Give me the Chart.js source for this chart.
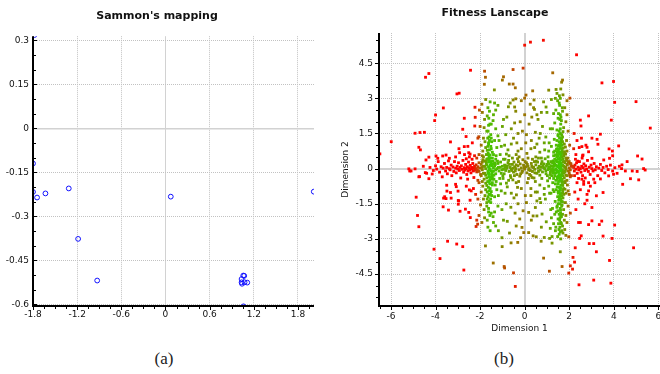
<!DOCTYPE html>
<html><head><meta charset="utf-8">
<script src="https://cdn.jsdelivr.net/npm/chart.js@4/dist/chart.umd.min.js"></script>
<style>
html,body{margin:0;padding:0;background:#fff;width:660px;height:374px;overflow:hidden;position:relative;}
#wa{position:absolute;left:0;top:0;width:325px;height:340px;}
#wb{position:absolute;left:330px;top:0;width:348px;height:340px;}
.cap{position:absolute;top:348px;width:60px;height:22px;line-height:22px;text-align:center;font-family:"Liberation Serif","DejaVu Serif",serif;font-size:17px;color:#222;}
</style></head><body>
<div id="wa"><canvas id="ca" width="325" height="340"></canvas></div>
<div id="wb"><canvas id="cb" width="348" height="340"></canvas></div>
<div class="cap" style="left:134px;">(a)</div>
<div class="cap" style="left:474px;">(b)</div>
<script>
// ---------- Sammon's mapping (a) ----------
const sammonX = [-1.78, -1.80, -1.314, -1.80, -1.745, -1.631, 0.072, 2.015, -1.187, -0.928, 1.057, 1.07, 1.034, 1.034, 1.075, 1.111, 1.04, 1.06];
const sammonY = [0.318, -0.120, -0.205, -0.217, -0.236, -0.222, -0.233, -0.216, -0.377, -0.519, -0.502, -0.503, -0.514, -0.525, -0.525, -0.526, -0.53, -0.607];
const sammonXTicks = [-1.8, -1.2, -0.6, 0, 0.6, 1.2, 1.8];
const sammonYTicks = [0.3, 0.15, 0, -0.15, -0.3, -0.45, -0.6];

// ---------- Fitness landscape (b) ----------
const fitXTicks = [-6, -4, -2, 0, 2, 4, 6];
const fitYTicks = [4.5, 3, 1.5, 0, -1.5, -3, -4.5];

const fitOuter = [
[0.0,5.27],[0.26,5.4],[0.84,5.48],[2.33,4.86],
[-4.45,3.9],[-4.3,4.06],[-2.43,4.2],[-1.8,4.16],[-1.76,3.9],[-1.81,3.6],[-1.36,3.36],[-1.0,3.78],[-0.95,3.92],
[-0.52,4.23],[-0.69,3.61],[-0.52,3.61],[-0.42,3.45],[-0.07,4.29],[-0.52,2.93],[-0.4,2.98],[-0.73,2.64],[-0.45,2.63],
[0.06,3.14],[0.0,3.01],[0.36,3.32],[0.42,2.93],[0.44,2.53],[0.55,2.3],[0.96,2.63],[1.08,3.35],[1.26,4.09],[1.41,3.38],
[1.45,3.21],[1.56,3.11],[1.6,3.0],[1.66,3.69],[1.7,3.78],[1.9,2.9],[2.03,3.01],
[2.5,2.07],[2.53,1.82],[2.87,2.25],[3.47,3.66],[3.99,3.72],[4.04,2.83],[3.89,2.07],[5.0,2.86],[5.64,1.73],
[3.4,1.47],[3.02,1.3],[3.25,1.25],[3.29,1.04],[4.22,0.97],[3.79,0.84],[3.94,0.75],[3.95,0.55],[5.07,0.54],[5.27,0.41],
[4.6,0.3],[4.37,0.16],[2.8,0.91],[2.87,0.72],[3.02,0.44],[3.55,0.37],[3.81,0.44],[2.57,0.94],[2.62,0.58],
[4.52,-0.1],[5.34,0.0],[5.41,-0.06],[4.75,-0.43],[5.12,-0.48],[4.4,-0.67],[4.83,-0.1],[5.05,-0.12],
[-5.99,1.15],[-6.5,0.63],[-4.92,1.51],[-4.7,1.54],[-4.5,1.55],[-4.75,0.91],[-4.68,0.8],
[-3.04,3.19],[-2.94,3.22],[-3.65,2.59],[-4.0,2.29],[-4.04,2.05],[-2.71,2.15],[-2.78,1.68],[-2.63,1.37],[-3.33,1.14],
[-2.71,0.94],[-2.23,2.62],[-2.22,2.19],[-2.03,2.5],[-2.24,1.82],[-2.06,1.36],
[-4.43,0.37],[-4.3,0.49],[-3.98,0.54],[-3.9,0.44],[-3.68,0.54],[-3.53,0.58],[-3.38,0.44],[-2.92,0.68],[-2.51,0.68],
[-5.2,-0.01],[-5.1,-0.1],[-4.92,-0.01],[-4.72,-0.34],[-5.16,-0.1],
[-4.87,-1.22],[-4.81,-2.0],[-4.75,-2.48],[-4.07,-3.44],[-3.8,-3.84],[-3.46,-3.1],[-3.05,-3.22],[-2.78,-3.33],[-2.73,-4.33],
[-3.66,-1.63],[-3.42,-1.77],[-3.59,-1.2],[-2.96,-1.38],[-2.9,-1.82],[-2.66,-1.73],[-2.51,-1.87],[-2.44,-2.09],[-2.18,-2.47],[-2.11,-2.37],
[-1.76,-3.3],[-1.41,-4.03],[-1.01,-3.33],[-0.92,-4.18],[-0.9,-4.24],[-0.5,-4.45],[-0.42,-5.03],[-0.61,-3.17],[-0.31,-3.15],
[0.85,-3.82],[1.11,-4.38],[1.6,-3.55],[1.68,-4.18],[1.98,-4.46],[2.05,-4.15],[2.15,-4.29],[2.24,-3.99],[2.17,-3.79],[2.27,-3.38],[2.18,-5.89],[2.44,-4.96],
[2.47,-2.98],[2.54,-2.87],[2.42,-2.3],[2.5,-2.3],[2.87,-2.39],[3.02,-2.23],[3.35,-2.39],[3.46,-2.24],[3.02,-1.66],[3.52,-2.88],[2.9,-3.2],[3.1,-3.2],
[3.22,-3.55],[3.1,-4.76],[3.92,-2.98],[3.81,-3.92],[4.04,-2.41],[3.87,-4.89],[4.89,-3.38],[3.22,-1.16],[2.87,-0.95],[3.52,-1.02],[2.8,-1.35]
];

const fitBandLeft = [
[-4.25,0.05],[-4.1,-0.08],[-4.0,0.12],[-3.95,-0.02],[-3.88,0.3],[-3.82,-0.15],[-3.75,0.08],[-3.7,-0.35],[-3.66,0.02],[-3.6,0.22],
[-3.55,-0.1],[-3.5,0.05],[-3.47,-0.22],[-3.42,0.33],[-3.38,0.0],[-3.35,-0.05],[-3.3,0.15],[-3.27,-0.3],[-3.22,0.07],[-3.18,-0.12],
[-3.15,0.3],[-3.1,0.02],[-3.07,-0.18],[-3.03,0.1],[-3.0,-0.02],[-2.97,0.25],[-2.93,-0.08],[-2.9,0.05],[-2.87,-0.4],[-2.84,0.12],
[-2.8,-0.03],[-2.77,0.35],[-2.74,-0.15],[-2.71,0.04],[-2.68,-0.06],[-2.65,0.18],[-2.62,0.0],[-2.6,-0.25],[-2.57,0.08],[-2.54,-0.1],
[-2.52,0.28],[-2.49,0.02],[-2.46,-0.05],[-2.44,0.14],[-2.41,-0.18],[-2.38,0.05],[-2.35,-0.02],[-2.33,0.22],[-2.3,-0.1],[-2.27,0.03],
[-2.25,0.1],[-2.22,-0.06],[-2.2,0.0],[-2.18,0.16],[-2.15,-0.14],[-2.62,0.42],[-2.48,0.5],[-2.36,0.4],[-2.28,-0.38],[-2.56,-0.45],
[-3.1,0.5],[-2.95,0.85],[-2.7,0.6],[-2.55,0.95],[-2.45,0.62],[-2.35,1.1],[-2.25,0.55],[-2.15,0.45],[-2.1,-0.5],
[-3.5,-0.71],[-3.49,-0.96],[-3.64,-1.26],[-3.53,-1.28],[-3.33,-1.02],[-3.3,-1.26],[-3.1,-0.67],[-3.07,-0.77],[-2.99,-0.96],
[-2.98,-1.36],[-2.98,-1.52],[-2.48,-0.91],[-2.4,-0.95],[-2.45,-1.35],[-2.62,-0.75],[-2.3,-0.85],[-2.2,-1.1],
[-4.75,-0.35],[-4.3,-0.43],[-4.15,-0.23],[-4.46,-0.17],[-4.4,-0.2],[-4.55,0.1]
];

const fitBandRight = [
[2.2,0.05],[2.23,-0.1],[2.26,0.15],[2.3,-0.02],[2.33,0.25],[2.36,-0.2],[2.4,0.06],[2.43,-0.05],[2.46,0.3],[2.5,0.0],
[2.53,-0.15],[2.56,0.1],[2.6,-0.3],[2.63,0.04],[2.66,0.2],[2.7,-0.08],[2.74,0.12],[2.78,-0.02],[2.82,0.35],[2.86,-0.12],
[2.9,0.06],[2.94,-0.25],[2.98,0.15],[3.02,0.0],[3.07,-0.1],[3.12,0.22],[3.17,-0.05],[3.22,0.08],[3.28,-0.3],[3.33,0.02],
[3.4,0.18],[3.46,-0.08],[3.52,0.05],[3.6,-0.18],[3.68,0.1],[3.75,-0.04],[3.85,0.15],[3.95,-0.1],[4.05,0.04],[4.15,-0.2],
[4.25,0.1],[4.35,0.0],[2.28,0.4],[2.42,-0.42],[2.58,0.45],[2.72,-0.4],[2.24,-0.3],[2.38,0.32],
[2.3,0.6],[2.45,0.9],[2.6,0.55],[2.75,1.0],[2.2,0.85],[2.35,1.2],[2.55,1.3],[2.22,1.5],
[2.35,-0.6],[2.5,-0.9],[2.65,-0.55],[2.8,-1.1],[2.95,-0.75],[3.15,-0.6],[2.4,-1.3],[2.25,-1.0],[2.7,-1.5],[2.3,-1.75],
[2.57,-0.45],[2.87,-0.6],[3.1,-0.45],[3.4,-0.44],[3.77,-0.31],[3.99,-0.24],[2.65,-0.67]
];

const fitBandCenter = [
[-2.1,0.08],[-2.05,-0.12],[-2.0,0.02],[-1.95,0.18],[-1.9,-0.05],[-1.85,0.1],[-1.8,-0.2],[-1.75,0.0],[-1.7,0.15],[-1.65,-0.1],
[-1.6,0.05],[-1.55,-0.02],[-1.5,0.2],[-1.45,-0.15],[-1.4,0.04],[-1.35,0.12],[-1.3,-0.06],[-1.25,0.0],[-1.2,0.22],[-1.15,-0.1],
[-1.1,0.06],[-1.05,-0.2],[-1.0,0.1],[-0.95,-0.03],[-0.9,0.15],[-0.85,-0.08],[-0.8,0.02],[-0.75,0.25],[-0.7,-0.12],[-0.65,0.05],
[-0.6,-0.02],[-0.55,0.18],[-0.5,-0.15],[-0.45,0.08],[-0.4,0.0],[-0.35,-0.25],[-0.3,0.12],[-0.25,-0.05],[-0.2,0.2],[-0.15,0.03],
[-0.1,-0.1],[-0.05,0.15],[0.0,-0.02],[0.05,0.08],[0.1,-0.18],[0.15,0.1],[0.2,0.0],[0.25,-0.08],[0.3,0.22],[0.35,-0.12],
[0.4,0.05],[0.45,-0.03],[0.5,0.16],[0.55,-0.2],[0.6,0.02],[0.65,0.1],[0.7,-0.06],[0.75,0.2],[0.8,-0.14],[0.85,0.04],
[0.9,0.0],[0.95,-0.1],[1.0,0.18],[1.05,-0.04],[1.1,0.08],[1.15,-0.16],[1.2,0.12],[1.25,0.0],[1.3,-0.08],[1.35,0.2],
[1.4,-0.02],[1.45,0.1],[1.5,-0.12],[1.55,0.04],[1.6,0.0],[1.65,-0.06],[1.7,0.14],[1.75,-0.18],[1.8,0.06],[1.85,-0.02],
[1.9,0.16],[1.95,-0.1],[2.0,0.03],[2.05,-0.05],[2.1,0.1],
[-1.98,-0.25],[-1.72,0.3],[-1.48,-0.3],[-1.22,0.32],[-0.98,-0.3],[-0.72,0.35],[-0.48,0.28],[-0.22,-0.32],[0.02,0.3],[0.28,-0.3],
[0.52,0.32],[0.78,0.3],[1.02,-0.3],[1.28,0.33],[1.52,-0.32],[1.78,0.3],[2.02,-0.28],[-1.88,0.38],[-0.62,-0.38],[0.42,-0.4],
[0.92,0.42],[1.12,-0.4],[-1.12,-0.42],[-0.32,0.42],[0.62,0.45],[-0.88,0.4],
[-2.12,-0.04],[-1.92,0.05],[-1.62,-0.18],[-1.32,0.18],[-1.02,-0.05],[-0.82,0.12],[-0.58,-0.08],[-0.38,0.16],[-0.12,-0.16],[0.12,0.18],
[0.36,0.06],[0.62,-0.12],[0.86,0.2],[1.08,0.0],[1.32,0.1],[1.58,0.18],[1.82,-0.1],[2.08,0.2],
[-1.08,0.28],[-0.92,-0.22],[-0.78,0.1],[-0.64,-0.3],[-0.52,0.02],[-0.42,-0.1],[-0.28,0.3],[-0.18,-0.22],[-0.02,0.05],[0.08,0.25],
[0.22,-0.25],[0.32,0.1],[0.46,-0.18],[0.58,0.28],[0.68,-0.28],[0.82,0.1],[0.96,-0.22],[1.06,0.3],[-1.38,-0.28],[-1.18,0.05],
[-0.88,0.05],[-0.68,0.18],[-0.46,-0.3],[-0.08,0.38],[0.18,-0.05],[0.44,0.3],[0.72,0.06],[0.98,0.1]
];

const fitColLeft = [
[-1.6,0.5],[-1.58,0.8],[-1.62,1.1],[-1.57,-0.5],[-1.63,-0.8],[-1.6,-1.1],[-1.59,0.35],[-1.61,-0.35],[-1.64,0.65],[-1.56,-0.65],
[-1.6,1.35],[-1.6,-1.4],[-1.55,0.15],[-1.65,-0.2],[-1.72,0.22],[-1.48,-0.22],[-1.6,0.28],[-1.6,-0.25],
[-1.9,0.55],[-1.75,0.9],[-1.45,0.7],[-1.35,1.2],[-1.85,1.3],[-1.7,1.6],[-1.5,1.9],[-1.8,2.1],[-1.4,2.3],[-1.65,2.6],
[-1.3,2.5],[-1.55,2.85],[-1.75,2.95],[-1.9,2.4],[-2.0,1.8],[-1.3,1.7],[-1.95,1.0],[-1.25,0.9],[-1.7,0.4],[-1.45,0.45],
[-2.05,0.6],[-1.52,1.45],[-1.82,1.75],[-1.42,2.05],[-1.68,2.25],[-1.35,2.8],[-1.88,0.75],[-1.28,0.55],[-1.62,1.85],[-1.48,1.15],
[-1.78,1.15],[-2.1,1.3],[-1.2,1.4],[-1.58,2.45],[-1.92,2.75],
[-1.9,-0.55],[-1.75,-0.9],[-1.45,-0.7],[-1.35,-1.2],[-1.85,-1.3],[-1.7,-1.6],[-1.5,-1.9],[-1.8,-2.1],[-1.4,-2.3],[-1.65,-2.5],
[-1.3,-2.45],[-1.55,-2.65],[-1.95,-1.0],[-1.25,-0.9],[-1.7,-0.4],[-1.45,-0.45],[-2.05,-0.6],[-1.52,-1.45],[-1.82,-1.75],[-1.42,-2.05],
[-1.68,-2.2],[-1.88,-0.75],[-1.28,-0.55],[-1.62,-1.85],[-1.48,-1.15],[-1.78,-1.15],[-2.1,-1.3],[-1.2,-1.6],[-1.92,-2.3],[-1.35,-1.85],
[-1.98,-1.55],[-2.15,-2.2],[-2.05,-2.0],
[-1.48,0.12],[-1.52,0.3],[-1.57,0.45],[-1.63,0.6],[-1.68,0.78],[-1.52,0.95],[-1.58,1.2],[-1.66,1.3],[-1.5,-0.1],[-1.55,-0.38],
[-1.66,-0.55],[-1.7,-0.72],[-1.5,-0.98],[-1.64,-1.2],[-1.53,-1.3],[-1.7,-1.45],[-1.62,-1.7],[-1.56,-2.0],[-1.64,1.6],[-1.56,1.9],
[-1.61,2.15],[-1.74,0.3],[-1.45,-0.35],[-1.44,0.32],[-1.75,-0.28],[-1.62,0.08],[-1.58,-0.06],[-1.35,0.25],[-1.3,-0.22],[-1.9,0.28],
[-1.95,-0.3],[-2.05,0.25],[-1.8,0.33],
[-1.4,0.6],[-1.45,-0.6],[-1.5,0.85],[-1.55,-0.85],[-1.65,0.95],[-1.68,-1.0],[-1.72,0.6],[-1.75,-0.62],[-1.8,0.1],[-1.82,-0.45],
[-1.4,-0.1],[-1.42,0.2],[-1.38,-0.45],[-1.55,0.58],[-1.6,-0.58],[-1.66,0.42],[-1.54,-1.1],[-1.62,1.05],[-1.5,1.3],[-1.68,-1.3],
[-1.85,0.5],[-1.85,-0.2],[-1.3,0.4],[-1.32,-0.7],[-1.6,-0.95]
];

const fitColRight = [
[1.6,0.3],[1.62,0.5],[1.58,0.7],[1.6,0.9],[1.63,1.1],[1.57,1.3],[1.6,1.5],[1.61,-0.3],[1.59,-0.5],[1.62,-0.7],
[1.58,-0.9],[1.6,-1.1],[1.63,-1.3],[1.57,-1.5],[1.6,-1.7],[1.61,-1.9],[1.59,-2.1],[1.62,-2.3],[1.58,-2.5],[1.6,-2.7],
[1.6,1.7],[1.62,1.9],[1.58,2.1],[1.6,2.3],[1.55,0.2],[1.67,-0.2],[1.53,0.4],[1.68,-0.45],[1.52,-0.15],[1.7,0.12],
[1.64,0.6],[1.56,-0.8],[1.65,1.2],[1.55,-1.2],[1.66,0.85],[1.54,1.0],[1.66,-1.6],[1.55,-1.95],
[1.35,0.4],[1.85,0.45],[1.4,-0.5],[1.8,-0.55],[1.3,0.7],[1.9,0.75],[1.45,0.85],[1.75,-0.85],[1.28,-0.9],[1.95,-0.95],
[1.42,1.0],[1.78,1.05],[1.33,1.25],[1.88,1.2],[1.48,-1.2],[1.72,-1.25],[1.37,-1.4],[1.83,-1.45],[1.5,1.4],[1.7,1.35],
[2.0,0.3],[1.25,0.25],[2.05,-0.35],[1.22,-0.3],[1.45,0.6],[1.75,0.62],[1.5,-0.65],[1.7,-0.68],[1.2,0.95],[2.02,1.0],
[1.18,-1.05],[2.0,-1.1],[1.55,1.15],[1.66,-1.05],
[1.45,1.65],[1.75,1.75],[1.35,1.95],[1.85,2.0],[1.5,2.15],[1.7,2.45],[1.4,2.5],[1.8,2.6],[1.55,2.8],[1.3,2.35],
[1.9,2.3],[1.65,2.05],[1.25,1.7],[1.95,1.6],[1.48,2.9],[1.72,3.15],[1.38,3.0],[1.62,3.4],
[1.45,-1.65],[1.75,-1.75],[1.35,-1.95],[1.85,-2.0],[1.5,-2.15],[1.7,-2.45],[1.4,-2.5],[1.8,-2.6],[1.55,-2.8],[1.3,-2.35],
[1.9,-2.3],[1.65,-2.05],[1.25,-1.7],[1.95,-1.6],[1.48,-2.9],[1.72,-2.75],[1.38,-2.65],[1.62,-3.0],[1.85,-2.85],[1.2,-2.1],
[2.05,-1.9],[1.78,-2.2],[1.52,-2.35],[1.68,-1.55],[1.42,-1.85],[1.98,-2.91],[1.15,-2.55],
[1.5,0.08],[1.7,-0.05],[1.45,-0.08],[1.75,0.1],[1.4,0.15],[1.8,-0.15],[1.65,0.22],[1.55,-0.25],[1.35,-0.05],[1.85,0.05],
[1.92,0.18],[1.28,-0.18],
[1.48,0.12],[1.52,0.28],[1.57,0.45],[1.63,0.62],[1.68,0.78],[1.52,0.95],[1.58,1.12],[1.66,1.28],[1.5,1.45],[1.72,1.58],
[1.48,-0.12],[1.54,-0.38],[1.66,-0.55],[1.71,-0.72],[1.5,-0.98],[1.64,-1.15],[1.53,-1.35],[1.7,-1.42],[1.46,-1.6],[1.61,-1.78],
[1.56,0.05],[1.63,-0.1],[1.58,0.62],[1.47,0.7],[1.74,0.3],[1.73,-0.3],[1.44,0.3],[1.45,-0.35],[1.62,0.05],[1.59,-0.05],
[1.66,1.45],[1.55,1.6],[1.49,-1.8],[1.7,-1.95],[1.57,-2.2],[1.65,-2.35],[1.54,-2.6],[1.67,-2.65],[1.63,2.2],[1.52,2.35],
[1.69,2.6],[1.57,2.7],[1.5,0.55],[1.7,-0.9],[1.56,-1.0],[1.68,1.0],
[1.1,0.2],[1.15,-0.25],[1.2,0.3],[1.25,-0.12],[1.3,0.26],[1.35,-0.3],[1.4,0.35],[1.9,-0.3],[1.95,0.28],[2.0,-0.18],
[2.05,0.22],[2.1,-0.3],[2.15,0.1],[1.12,0.05],[1.18,-0.05],
[1.3,0.55],[1.35,0.75],[1.38,-0.65],[1.42,-0.9],[1.44,0.5],[1.47,-0.45],[1.5,0.75],[1.52,-0.55],[1.55,0.65],[1.57,-0.35],
[1.6,0.15],[1.62,-0.42],[1.64,0.38],[1.66,-0.28],[1.68,0.5],[1.7,-0.58],[1.72,0.42],[1.74,-0.15],[1.76,0.55],[1.78,-0.4],
[1.8,0.25],[1.82,-0.6],[1.84,0.62],[1.86,-0.28],[1.88,0.35],[1.9,-0.5],[1.3,-0.42],[1.33,0.15],[1.36,-0.2],[1.39,0.58],
[1.41,-0.18],[1.43,0.82],[1.46,-0.78],[1.49,0.42],[1.51,-1.05],[1.54,0.82],[1.56,-1.25],[1.59,0.98],[1.61,-0.82],[1.64,1.02],
[1.67,-1.18],[1.69,0.7],[1.71,-1.0],[1.73,0.88],[1.76,-1.1],[1.79,0.72],[1.81,-0.88],[1.83,0.92],[1.86,-1.05],[1.27,0.1],
[1.26,-0.6],[1.32,-0.98],[1.92,-0.7],[1.94,0.45],[1.5,-1.5],[1.65,-1.4],[1.58,1.32],[1.45,1.2],[1.7,1.15],[1.62,-2.0]
];

const fitCenter = [
[-1.1,0.6],[-0.9,1.0],[-0.7,0.55],[-0.5,1.3],[-0.3,0.75],[-0.1,1.6],[0.1,0.65],[0.3,1.2],[0.5,0.5],[0.7,1.5],
[0.9,0.8],[1.1,1.1],[-1.0,1.8],[-0.8,2.2],[-0.6,1.7],[-0.4,2.45],[-0.2,2.0],[0.0,2.3],[0.2,1.9],[0.4,2.6],
[0.6,2.1],[0.8,1.8],[1.0,2.4],[1.15,1.7],[-1.15,1.2],[-0.95,0.4],[-0.55,0.45],[-0.25,0.5],[0.15,0.45],[0.45,0.9],
[0.75,0.45],[1.05,0.5],[-0.85,1.45],[-0.45,1.95],[0.05,1.1],[0.55,1.05],[0.95,1.35],[-1.2,2.7],[-0.65,2.8],[0.25,2.75],
[0.85,2.85],[1.2,2.95],[-0.15,2.9],[0.65,1.3],[-0.75,0.8],[0.35,0.4],[-0.35,1.1],
[-1.05,0.95],[-0.82,0.62],[-0.6,1.05],[-0.38,0.6],[-0.15,0.85],[0.08,1.45],[0.28,0.85],[0.48,1.55],[0.68,0.7],[0.88,1.1],
[1.08,0.75],[-0.95,2.1],[-0.3,1.5],[0.32,2.2],[0.75,2.4],
[-1.08,-0.65],[-0.88,-1.05],[-0.72,-0.5],[-0.48,-1.25],[-0.32,-0.8],[-0.07,-1.8],[0.12,-0.6],[0.28,-1.15],[0.48,-0.55],[0.72,-1.45],
[0.88,-0.85],[1.12,-1.05],[-1.02,-1.75],[-0.78,-2.25],[-0.62,-1.65],[-0.38,-2.45],[-0.12,-2.51],[-0.04,-2.73],[0.18,-1.87],[0.38,-2.02],
[0.55,-2.02],[0.78,-1.94],[0.97,-2.27],[1.17,-1.75],[-1.18,-1.15],[-0.97,-0.42],[-0.53,-0.48],[-0.27,-0.55],[0.17,-0.42],[0.48,-1.66],
[0.55,-1.38],[0.77,-0.42],[1.03,-0.52],[-0.83,-1.5],[-0.43,-1.9],[0.03,-1.15],[0.57,-1.0],[0.93,-1.3],[-1.18,-2.65],[-0.68,-2.75],
[0.18,-2.73],[0.38,-2.87],[0.52,-2.91],[0.74,-3.1],[0.88,-2.94],[1.12,-2.98],[1.23,-2.9],[1.23,-3.18],[-0.18,-2.95],[0.68,-1.28],
[-0.78,-0.78],[0.33,-0.38],[-0.37,-1.12],[-1.02,-2.95],[-0.22,-2.15],
[-1.05,-0.95],[-0.82,-0.62],[-0.6,-1.05],[-0.38,-0.6],[-0.15,-0.85],[0.08,-1.45],[0.28,-0.85],[0.48,-1.0],[0.68,-0.7],[0.88,-1.1],
[1.08,-0.75],[-0.95,-2.2],[-0.3,-1.5],[0.3,-2.2],[0.75,-2.5]
];

// ---------- helpers ----------
function toPoints(list){ return list.map(p => ({x:p[0], y:p[1]})); }
function fitColor(c){
  const p = c.raw; if (!p) return 'rgb(255,0,0)';
  const ax = Math.abs(p.x), ay = Math.abs(p.y);
  const d = Math.abs(ax - 1.6);
  let f = ax >= 1.6 ? Math.max(0, 1 - d / 0.7) : 1 - 0.45 * d / 1.6;
  f *= Math.max(0, 1 - 0.05 * ay - 0.25 * Math.max(0, ay - 2.8));
  let r, g;
  if (f < 0.5) { const t = f / 0.5; r = 255 - 105 * t; g = 120 * t; }
  else { const t = (f - 0.5) / 0.5; r = 150 - 90 * t; g = 120 + 85 * t; }
  return 'rgb(' + Math.round(r) + ',' + Math.round(g) + ',0)';
}
const axisDeco = {
  id: 'axisDeco',
  afterDatasetsDraw(chart, args, o) {
    const ctx = chart.ctx, a = chart.chartArea, xs = chart.scales.x, ys = chart.scales.y;
    ctx.save();
    ctx.strokeStyle = '#000'; ctx.lineWidth = 1;
    ctx.beginPath();
    let k0 = Math.ceil(xs.min / o.xMinor - 1e-6), k1 = Math.floor(xs.max / o.xMinor + 1e-6);
    for (let k = k0; k <= k1; k++) {
      const v = k * o.xMinor, q = v / o.xMajor;
      const L = Math.abs(q - Math.round(q)) < 1e-6 ? o.majorLen : o.minorLen;
      const px = Math.round(xs.getPixelForValue(v)) + 0.5;
      ctx.moveTo(px, a.bottom); ctx.lineTo(px, a.bottom + o.xDir * (L + 1));
    }
    k0 = Math.ceil(ys.min / o.yMinor - 1e-6); k1 = Math.floor(ys.max / o.yMinor + 1e-6);
    for (let k = k0; k <= k1; k++) {
      const v = k * o.yMinor, q = v / o.yMajor;
      const L = Math.abs(q - Math.round(q)) < 1e-6 ? o.majorLen : o.minorLen;
      const py = Math.round(ys.getPixelForValue(v)) + 0.5;
      ctx.moveTo(a.left, py); ctx.lineTo(a.left + o.yDir * (L + 1), py);
    }
    ctx.stroke();
    ctx.lineWidth = 2;
    ctx.beginPath();
    ctx.moveTo(a.left, a.top); ctx.lineTo(a.left, a.bottom); ctx.lineTo(a.right, a.bottom);
    ctx.stroke();
    ctx.restore();
  }
};
function isZero(c){ return c.tick && Math.abs(c.tick.value) < 1e-9; }

Chart.defaults.font.family = "'DejaVu Sans', 'Liberation Sans', sans-serif";
Chart.defaults.font.size = 9;
Chart.defaults.color = '#111';
Chart.defaults.animation = false;

function gridOpts(zeroWidth){
  return {
    color: c => isZero(c) ? '#d2d2d2' : '#c2c2c2',
    lineWidth: c => isZero(c) ? zeroWidth : 1,
    drawTicks: false
  };
}
function borderOpts(){ return { display: false, dash: c => isZero(c) ? [] : [1, 1] }; }

// ---------- chart (a) ----------
new Chart(document.getElementById('ca'), {
  type: 'scatter',
  data: { datasets: [{
    data: sammonX.map((x, i) => ({x: x, y: sammonY[i]})),
    pointStyle: 'circle', pointRadius: 2.4, borderWidth: 1,
    borderColor: '#1010ff', backgroundColor: 'rgba(0,0,0,0)', clip: 0
  }]},
  options: {
    responsive: false, animation: false,
    layout: { padding: { left: 0, right: 11, top: 0, bottom: 0 } },
    plugins: {
      legend: { display: false }, tooltip: { enabled: false },
      title: { display: true, text: "Sammon's mapping", color: '#111',
        font: { size: 11, weight: 'bold' }, padding: { top: 10, bottom: 13 } },
      axisDeco: { xMinor: 0.15, xMajor: 0.6, yMinor: 0.05, yMajor: 0.15, xDir: 1, yDir: 1, majorLen: 3, minorLen: 2 }
    },
    scales: {
      x: { type: 'linear', min: -1.8, max: 2.018,
        afterBuildTicks: s => { s.ticks = sammonXTicks.map(v => ({value: v})); },
        afterFit: s => { s.height = 34; },
        ticks: { includeBounds: false, autoSkip: false, maxRotation: 0, padding: 3, callback: v => String(v) },
        grid: gridOpts(1), border: borderOpts() },
      y: { type: 'linear', min: -0.6058, max: 0.314,
        afterBuildTicks: s => { s.ticks = sammonYTicks.map(v => ({value: v})); },
        afterFit: s => { s.width = 33; },
        ticks: { includeBounds: false, autoSkip: false, padding: 4, callback: v => String(v) },
        grid: gridOpts(1.5), border: borderOpts() }
    }
  },
  plugins: [axisDeco]
});

// ---------- chart (b) ----------
const fitAll = [].concat(fitOuter, fitBandLeft, fitBandRight, fitCenter, fitBandCenter, fitColLeft, fitColRight);
new Chart(document.getElementById('cb'), {
  type: 'scatter',
  data: { datasets: [{
    data: toPoints(fitAll),
    pointStyle: 'rect', pointRadius: 2, borderWidth: 0,
    backgroundColor: fitColor, borderColor: fitColor, clip: 0
  }]},
  options: {
    responsive: false, animation: false,
    layout: { padding: { left: 0, right: 18, top: 0, bottom: 0 } },
    plugins: {
      legend: { display: false }, tooltip: { enabled: false },
      title: { display: true, text: 'Fitness Lanscape', color: '#111',
        font: { size: 11, weight: 'bold' }, padding: { top: 7, bottom: 12.8 } },
      axisDeco: { xMinor: 0.5, xMajor: 2, yMinor: 0.5, yMajor: 1.5, xDir: 1, yDir: -1, majorLen: 3, minorLen: 2 }
    },
    scales: {
      x: { type: 'linear', min: -6.539, max: 6.076,
        afterBuildTicks: s => { s.ticks = fitXTicks.map(v => ({value: v})); },
        afterFit: s => { s.height = 34; },
        ticks: { includeBounds: false, autoSkip: false, maxRotation: 0, padding: 5, callback: v => String(v) },
        title: { display: true, text: 'Dimension 1', color: '#111', font: { size: 9 }, padding: { top: 0, bottom: 6 } },
        grid: gridOpts(2), border: borderOpts() },
      y: { type: 'linear', min: -5.865, max: 5.79,
        afterBuildTicks: s => { s.ticks = fitYTicks.map(v => ({value: v})); },
        afterFit: s => { s.width = 49; },
        ticks: { includeBounds: false, autoSkip: false, padding: 6, callback: v => String(v) },
        title: { display: true, text: 'Dimension 2', color: '#111', font: { size: 9 }, padding: { top: 10, bottom: 0 } },
        grid: gridOpts(2), border: borderOpts() }
    }
  },
  plugins: [axisDeco]
});
</script>
</body></html>
